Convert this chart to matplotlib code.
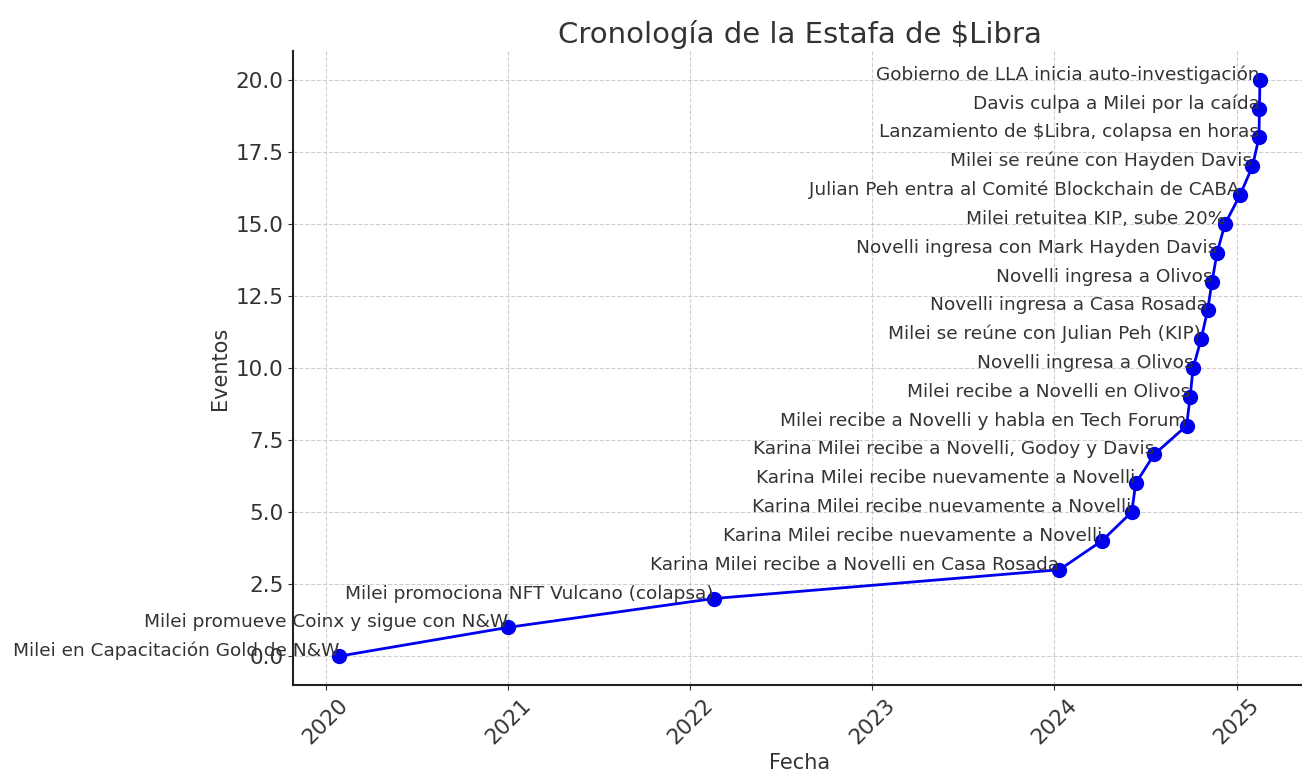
import pandas as pd
import numpy as np
from matplotlib import pyplot as plt
import matplotlib.dates as mdates


fechas = [
    "2020-01-28", "2021-01-01", "2022-02-17", "2024-01-11", "2024-04-05",
    "2024-06-04", "2024-06-12", "2024-07-19", "2024-09-22", "2024-09-29",
    "2024-10-05", "2024-10-21", "2024-11-03", "2024-11-12", "2024-11-22",
    "2024-12-08", "2025-01-07", "2025-02-01", "2025-02-14", "2025-02-15",
    "2025-02-16",
]
eventos = [
    "Milei en Capacitación Gold de N&W",
    "Milei promueve Coinx y sigue con N&W",
    "Milei promociona NFT Vulcano (colapsa)",
    "Karina Milei recibe a Novelli en Casa Rosada",
    "Karina Milei recibe nuevamente a Novelli",
    "Karina Milei recibe nuevamente a Novelli",
    "Karina Milei recibe nuevamente a Novelli",
    "Karina Milei recibe a Novelli, Godoy y Davis",
    "Milei recibe a Novelli y habla en Tech Forum",
    "Milei recibe a Novelli en Olivos",
    "Novelli ingresa a Olivos",
    "Milei se reúne con Julian Peh (KIP)",
    "Novelli ingresa a Casa Rosada",
    "Novelli ingresa a Olivos",
    "Novelli ingresa con Mark Hayden Davis",
    "Milei retuitea KIP, sube 20%",
    "Julian Peh entra al Comité Blockchain de CABA",
    "Milei se reúne con Hayden Davis",
    "Lanzamiento de $Libra, colapsa en horas",
    "Davis culpa a Milei por la caída",
    "Gobierno de LLA inicia auto-investigación",
]

df = pd.DataFrame({"fecha": pd.to_datetime(fechas), "evento": eventos})
df["n"] = range(len(df))

text_color = "#333333"

fig = plt.figure(figsize=(13.02, 7.75), dpi=100)
# the source image is cropped on the right, so the axes run a bit past the edge
ax = fig.add_axes([293 / 1302, 90 / 775, 1013 / 1302, 634 / 775])

ax.plot(df["fecha"], df["n"], marker="o", linestyle="-", color="#0000ee",
        linewidth=2, markersize=10)

for i, row in df.iterrows():
    ax.text(row["fecha"], row["n"], row["evento"], ha="right", va="baseline",
            fontsize=13.3, color=text_color)

ax.set_title("Cronología de la Estafa de $Libra", fontsize=21, color=text_color)
ax.set_xlabel("Fecha", fontsize=15, color=text_color)
ax.set_ylabel("Eventos", fontsize=15, color=text_color)

ax.xaxis.set_major_locator(mdates.YearLocator())
ax.xaxis.set_major_formatter(mdates.DateFormatter("%Y"))
ax.set_yticks(np.arange(0, 20.1, 2.5))
ax.tick_params(axis="both", labelsize=15.5, colors=text_color)
plt.setp(ax.get_xticklabels(), rotation=45)

ax.grid(True, linestyle="--", color="#bbbbbb", alpha=0.7)
ax.spines["top"].set_visible(False)
ax.spines["right"].set_visible(False)
ax.spines["left"].set_color("#222222")
ax.spines["bottom"].set_color("#222222")
ax.spines["left"].set_linewidth(1.5)
ax.spines["bottom"].set_linewidth(1.5)

plt.savefig("out.png", dpi=100)
